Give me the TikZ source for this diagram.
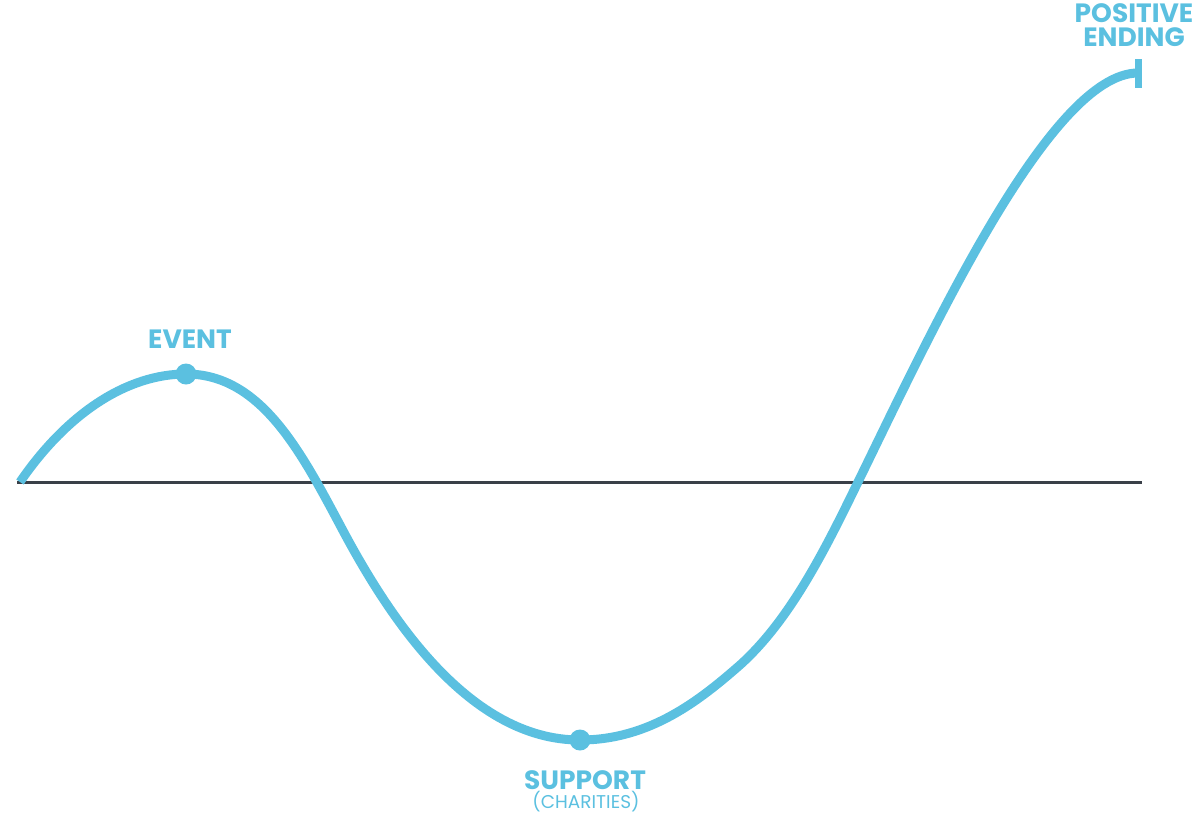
\documentclass[tikz,border=0pt]{standalone}
\usepackage{fontspec}
\setmainfont{Poppins}
\definecolor{curveblue}{RGB}{91,192,224}
\definecolor{axisgray}{RGB}{58,64,72}
\tikzset{
  curve/.style={draw=curveblue, line width=9pt, line cap=butt, line join=round},
  axisline/.style={draw=axisgray, line width=3pt},
  dot/.style={circle, fill=curveblue, inner sep=0pt, minimum size=21pt},
  biglabel/.style={text=curveblue, font=\fontsize{26.5}{24}\selectfont\bfseries, inner sep=0pt, anchor=base, align=center},
  smalllabel/.style={text=curveblue, font=\fontsize{18.5}{19}\selectfont, inner sep=0pt, anchor=base},
}
\begin{document}
\begin{tikzpicture}[x=1pt,y=-1pt]
\useasboundingbox (0,0) rectangle (1200,815);
% axis
\coordinate (axL) at (17,482);
\coordinate (axR) at (1142,482);
\draw[axisline] (axL) -- (axR);
% curve key points
\coordinate (start) at (20,482);
\coordinate (peak) at (186,374);
\coordinate (infl) at (340,525);
\coordinate (low) at (580,740);
\coordinate (kink) at (740,665);
\coordinate (cross) at (858,482);
\coordinate (endp) at (1138,73);
\draw[curve] (start) .. controls (68,412) and (128,374) .. (peak)
  .. controls (260,374) and (300,450) .. (infl)
  .. controls (390,620) and (470,740) .. (low)
  .. controls (650,740) and (700,700) .. (kink)
  .. controls (790,620) and (825,550) .. (cross)
  .. controls (930,335) and (1050,73) .. (endp);
% end cap
\coordinate (capT) at (1138,59);
\coordinate (capB) at (1138,88);
\draw[draw=curveblue, line width=7pt] (capT) -- (capB);
% dots
\node[dot] (evdot) at (peak) {};
\node[dot] (supdot) at (low) {};
% labels
\node[biglabel] (event) at (190,348) {EVENT};
\node[biglabel] (pos) at (1134,46) {POSITIVE\\ENDING};
\node[biglabel] (support) at (585,789) {SUPPORT};
\node[smalllabel] (char) at (586,808) {(CHARITIES)};
\end{tikzpicture}
\end{document}
